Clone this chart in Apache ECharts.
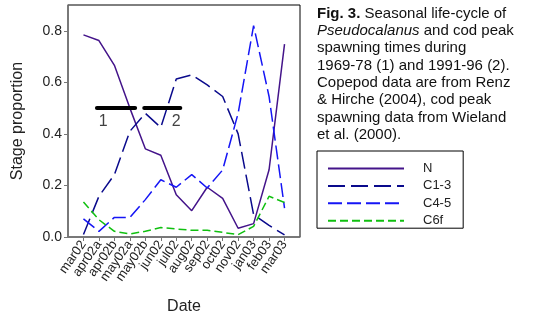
<!DOCTYPE html>
<html>
<head>
<meta charset="utf-8">
<script src="https://cdn.jsdelivr.net/npm/echarts@6/dist/echarts.min.js"></script>
<style>
  html, body { margin: 0; padding: 0; background: #fff; }
  #chart { width: 534px; height: 320px; }
</style>
</head>
<body>
<div id="chart"></div>
<script>
// Sampling dates (x categories)
const categories = ['mar02', 'apr02a', 'apr02b', 'may02a', 'may02b', 'jun02', 'jul02',
  'aug02', 'sep02', 'oct02', 'nov02', 'jan03', 'feb03', 'mar03'];

// Stage proportions of Pseudocalanus per sampling date
const stageN   = [0.784, 0.762, 0.666, 0.50, 0.342, 0.317, 0.164, 0.102, 0.193, 0.150, 0.034, 0.052, 0.261, 0.748];
const stageC13 = [0.010, 0.158, 0.242, 0.41, 0.480, 0.425, 0.613, 0.629, 0.590, 0.545, 0.400, 0.087, 0.045, 0.008];
const stageC45 = [0.070, 0.022, 0.076, 0.076, 0.145, 0.222, 0.193, 0.242, 0.190, 0.260, 0.480, 0.820, 0.545, 0.112];
const stageC6f = [0.136, 0.067, 0.022, 0.012, 0.022, 0.037, 0.031, 0.026, 0.026, 0.018, 0.009, 0.041, 0.158, 0.134];

// Cod peak spawning periods (start/end in category index units) at level 0.5
const spawn1 = [0.87, 3.34];
const spawn2 = [3.93, 6.26];
const spawnLevel = 0.5;
const spawnLabels = [['1', 1.27, 0.447], ['2', 6.0, 0.447]];

const yTicks = [0, 0.2, 0.4, 0.6, 0.8];

const font = 'Liberation Sans, Arial, sans-serif';
const xIdx = categories.map((_, i) => i);
const pts = arr => arr.map((v, i) => [i, v]);
// label axis: one empty slot at each end so the dates sit on the value ticks 0..13
const labelSlots = [''].concat(categories, ['']);

const chart = echarts.init(document.getElementById('chart'), null, { renderer: 'canvas' });

const lineSeries = (name, data, color, dash) => ({
  name, type: 'line', data: pts(data), symbol: 'none',
  lineStyle: { color, width: 1.5, type: dash || 'solid' },
  itemStyle: { color }
});

const option = {
  animation: false,
  grid: { left: 68, right: 234, top: 5, bottom: 83, show: true, borderColor: '#000', borderWidth: 1 },
  xAxis: [{
    type: 'value', min: -1, max: 14, interval: 1, position: 'bottom',
    axisLine: { show: true, onZero: false, lineStyle: { color: '#777', width: 1.5 } },
    axisTick: { show: true, customValues: xIdx, length: 4, lineStyle: { color: '#777' } },
    axisLabel: { show: false },
    splitLine: { show: false },
    name: 'Date', nameLocation: 'middle', nameGap: 62,
    nameTextStyle: { fontSize: 16, color: '#222', fontFamily: font }
  }, {
    type: 'category', data: labelSlots, boundaryGap: false, position: 'bottom',
    axisLine: { show: false }, axisTick: { show: false }, splitLine: { show: false },
    axisLabel: { interval: 0, rotate: 55, fontSize: 13, color: '#222', fontFamily: font, margin: 5 }
  }],
  yAxis: {
    type: 'value', min: 0, max: 0.9,
    axisLine: { show: true, onZero: false, lineStyle: { color: '#777', width: 1.5 } },
    axisTick: { show: true, customValues: yTicks, length: 4, lineStyle: { color: '#777' } },
    axisLabel: {
      customValues: yTicks, fontSize: 14, color: '#222', fontFamily: font, margin: 6,
      formatter: v => v.toFixed(1)
    },
    splitLine: { show: false },
    name: 'Stage proportion', nameLocation: 'middle', nameGap: 42,
    nameTextStyle: { fontSize: 16, color: '#222', fontFamily: font }
  },
  legend: {
    orient: 'vertical', left: 317, top: 151,
    data: ['N', 'C1-3', 'C4-5', 'C6f'],
    itemWidth: 76, itemHeight: 12, itemGap: 4.4,
    padding: [11, 12, 1, 10],
    borderColor: '#000', borderWidth: 1,
    itemStyle: { opacity: 0 },
    textStyle: { fontSize: 13, lineHeight: 12, color: '#222', fontFamily: font, padding: [0, 0, 0, 14] },
    selectedMode: false
  },
  graphic: [{
    type: 'text', left: 317, top: 5,
    style: {
      text: '{b|Fig. 3.} Seasonal life-cycle of\n{i|Pseudocalanus} and cod peak\nspawning times during\n' +
        '1969-78 (1) and 1991-96 (2).\nCopepod data are from Renz\n& Hirche (2004), cod peak\n' +
        'spawning data from Wieland\net al. (2000).',
      font: '15px ' + font, fill: '#111', lineHeight: 17.3,
      rich: {
        b: { fontWeight: 'bold', fontSize: 15, fontFamily: font, fill: '#111', lineHeight: 17.3 },
        i: { fontStyle: 'italic', fontSize: 15, fontFamily: font, fill: '#111', lineHeight: 17.3 }
      }
    }
  }],
  series: [
    lineSeries('N', stageN, '#44148a'),
    lineSeries('C1-3', stageC13, '#0a0a8c', [17, 6]),
    lineSeries('C4-5', stageC45, '#1515f5', [14, 5]),
    lineSeries('C6f', stageC6f, '#10c010', [8, 4]),
    {
      type: 'line', symbol: 'none', silent: true,
      data: [[spawn1[0], spawnLevel], [spawn1[1], spawnLevel]],
      lineStyle: { color: '#000', width: 4, cap: 'round' }
    },
    {
      type: 'line', symbol: 'none', silent: true,
      data: [[spawn2[0], spawnLevel], [spawn2[1], spawnLevel]],
      lineStyle: { color: '#000', width: 4, cap: 'round' }
    },
    {
      type: 'scatter', symbolSize: 0, silent: true,
      data: spawnLabels.map(d => ({ value: [d[1], d[2]], name: d[0] })),
      label: { show: true, position: 'inside', formatter: p => p.name, fontSize: 16, color: '#111', fontFamily: font }
    }
  ]
};

chart.setOption(option);
</script>
</body>
</html>
